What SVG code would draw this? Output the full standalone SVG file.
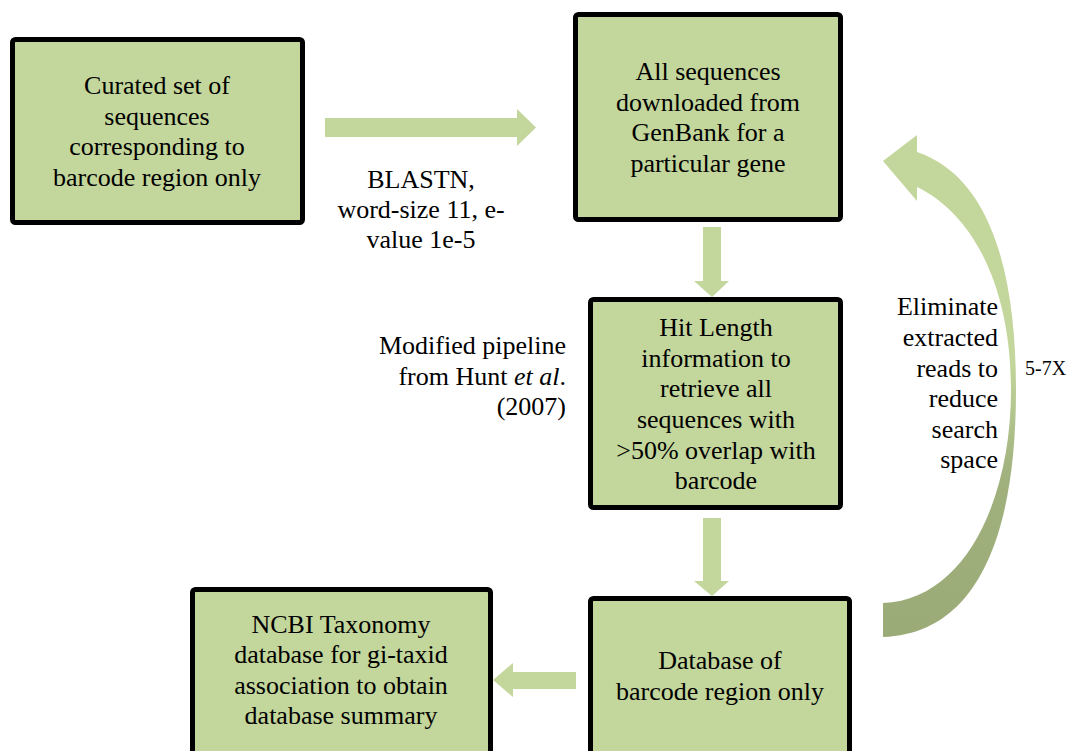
<svg xmlns="http://www.w3.org/2000/svg" width="1072" height="751" viewBox="0 0 1072 751">
<style>
.box{fill:#c3d69b;stroke:#000;stroke-width:5;}
.arr{fill:#c3d69b;}
.t{font-family:'Liberation Serif','Tinos','Times New Roman','DejaVu Serif','Noto Serif',serif;font-size:26px;fill:#000;}
.c{text-anchor:middle;}
.r{text-anchor:end;}
</style>
<defs>
<linearGradient id="g" gradientUnits="userSpaceOnUse" x1="0" y1="135" x2="0" y2="637">
<stop offset="0" stop-color="#c3d69b"/>
<stop offset="0.45" stop-color="#c3d69b"/>
<stop offset="0.68" stop-color="#a0b17e"/>
<stop offset="1" stop-color="#9aab78"/>
</linearGradient>
</defs>
<rect width="1072" height="751" fill="#fff"/>
<g id="connectors">
<polygon class="arr" points="325,118 517,118 517,109 536,127.5 517,146 517,137 325,137"/>
<polygon class="arr" points="703,227 721,227 721,281 729,281 712,297 694,281 703,281"/>
<polygon class="arr" points="703,518 721,518 721,581 729,581 712,596 694,581 703,581"/>
<polygon class="arr" points="576,672 513,672 513,663 493,680 513,697 513,689 576,689"/>
<path fill="url(#g)" d="M883,161 L917,135 L917,152 C985,175 1016,260 1016,390 C1016,540 975,634 883,637 L883,603 C965,600 1011,500 1011,390 C1011,290 975,215 917,187 L917,201 Z"/>
</g>
<g id="n1" class="t">
<rect class="box" x="12.5" y="39.5" width="290" height="183" rx="3"/>
<text class="c" x="157" y="94">Curated set of</text>
<text class="c" x="157" y="125">sequences</text>
<text class="c" x="157" y="155">corresponding to</text>
<text class="c" x="157" y="186">barcode region only</text>
</g>
<g id="n2" class="t">
<rect class="box" x="575.5" y="14.5" width="265" height="205" rx="3"/>
<text class="c" x="708" y="80">All sequences</text>
<text class="c" x="708" y="111">downloaded from</text>
<text class="c" x="708" y="141">GenBank for a</text>
<text class="c" x="708" y="172">particular gene</text>
</g>
<g id="n3" class="t">
<rect class="box" x="590.5" y="299.5" width="250" height="208" rx="3"/>
<text class="c" x="716" y="336">Hit Length</text>
<text class="c" x="716" y="367">information to</text>
<text class="c" x="716" y="397">retrieve all</text>
<text class="c" x="716" y="428">sequences with</text>
<text class="c" x="716" y="459">&gt;50% overlap with</text>
<text class="c" x="716" y="489">barcode</text>
</g>
<g id="n4" class="t">
<rect class="box" x="590.5" y="598.5" width="259" height="200" rx="3"/>
<text class="c" x="720" y="669">Database of</text>
<text class="c" x="720" y="700">barcode region only</text>
</g>
<g id="n5" class="t">
<rect class="box" x="192.5" y="589.5" width="298" height="200" rx="3"/>
<text class="c" x="341" y="633">NCBI Taxonomy</text>
<text class="c" x="341" y="663">database for gi-taxid</text>
<text class="c" x="341" y="694">association to obtain</text>
<text class="c" x="341" y="724">database summary</text>
</g>
<g id="labels" class="t">
<text class="c" x="421" y="188">BLASTN,</text>
<text class="c" x="421" y="218">word-size 11, e-</text>
<text class="c" x="421" y="248">value 1e-5</text>
<text class="r" x="566" y="354">Modified pipeline</text>
<text class="r" x="566" y="385">from Hunt <tspan font-style="italic">et al</tspan>.</text>
<text class="r" x="566" y="415">(2007)</text>
<text class="r" x="998" y="315">Eliminate</text>
<text class="r" x="998" y="346">extracted</text>
<text class="r" x="998" y="377">reads to</text>
<text class="r" x="998" y="407">reduce</text>
<text class="r" x="998" y="438">search</text>
<text class="r" x="998" y="468">space</text>
<text x="1025" y="375" style="font-size:20px">5-7X</text>
</g>
</svg>
